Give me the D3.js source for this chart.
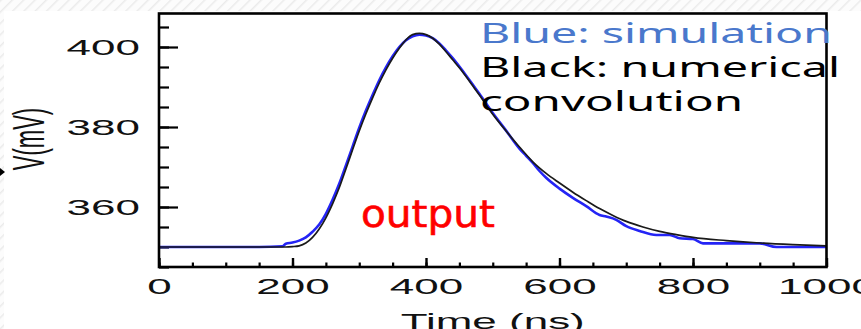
<!DOCTYPE html>
<html>
<head>
<meta charset="utf-8">
<script src="https://cdn.jsdelivr.net/npm/d3@7"></script>
<style>
  html, body { margin: 0; padding: 0; background: #fff; }
  svg { display: block; }
</style>
</head>
<body>
<svg id="chart" width="861" height="329"></svg>
<script>
// Numerical convolution result (black)
const convTime = [0, 150, 190, 200, 210, 220, 230, 240, 250, 260, 270, 280, 290, 300, 310, 320, 330, 340, 350, 360, 370, 380, 390, 400, 410, 420, 430, 440, 450, 460, 470, 480, 500, 520, 540, 560, 580, 600, 620, 640, 660, 680, 700, 725, 750, 775, 800, 850, 900, 950, 1000];
const convVolt = [350, 350, 350, 350.1, 350.3, 351.0, 352.4, 354.5, 357.3, 360.8, 364.8, 369.5, 374.3, 379.0, 383.3, 387.3, 391.0, 394.3, 397.2, 399.7, 401.8, 403.1, 403.4, 403.1, 402.2, 400.7, 398.8, 396.8, 394.8, 392.6, 390.3, 388.0, 383.2, 379.0, 375.0, 371.3, 368.4, 366.0, 363.7, 361.6, 359.6, 357.9, 356.4, 355.0, 353.9, 353.1, 352.4, 351.6, 351.0, 350.6, 350.3];

// Circuit simulation result (blue)
const simTime = [0, 150, 185, 190, 200, 210, 220, 230, 240, 250, 260, 270, 280, 290, 300, 310, 320, 330, 340, 350, 360, 370, 380, 390, 400, 410, 420, 430, 440, 450, 460, 470, 480, 500, 520, 540, 550, 560, 570, 580, 600, 620, 640, 660, 670, 685, 700, 720, 745, 765, 780, 800, 815, 850, 900, 925, 1000];
const simVolt = [350, 350, 350.2, 350.8, 351.1, 351.6, 352.4, 353.8, 355.6, 358.3, 361.8, 365.8, 370.4, 375.1, 379.8, 384.1, 388.0, 391.7, 394.9, 397.7, 400.0, 401.7, 402.7, 403.1, 402.9, 402.2, 400.9, 399.1, 397.2, 395.1, 392.9, 390.6, 388.3, 383.5, 379.1, 374.6, 372.8, 371.0, 369.0, 367.3, 364.6, 362.3, 360.2, 358.0, 357.6, 356.8, 355.2, 354.0, 353.0, 353.0, 352.2, 352.0, 350.9, 350.9, 350.9, 350.0, 350.0];

// Axis ticks
const timeTicks = [0, 200, 400, 600, 800, 1000];
const timeMinorTicks = d3.range(0, 1001, 50);
const voltTicks = [360, 380, 400];
const voltMinorTicks = d3.range(345, 406, 5);

const legendLines = ["Blue: simulation", "Black: numerical", "convolution"];
const noteText = "output";

const svg = d3.select("#chart");

// striped slide background along the top and left edges
const defs = svg.append("defs");
const pat = defs.append("pattern")
  .attr("id", "hatch").attr("width", 8).attr("height", 8)
  .attr("patternUnits", "userSpaceOnUse")
  .attr("patternTransform", "rotate(45)");
pat.append("rect").attr("width", 8).attr("height", 8).attr("fill", "#fcfcfc");
pat.append("line").attr("x1", 0).attr("y1", 0).attr("x2", 0).attr("y2", 8)
  .attr("stroke", "#ebebeb").attr("stroke-width", 3);
svg.append("rect").attr("x", 0).attr("y", 0).attr("width", 861).attr("height", 11).attr("fill", "url(#hatch)");
svg.append("rect").attr("x", 0).attr("y", 0).attr("width", 4).attr("height", 329).attr("fill", "url(#hatch)");

const x = d3.scaleLinear().domain([0, 1000]).range([159, 826.5]);
const y = d3.scaleLinear().domain([345, 408.375]).range([267, 13.5]);

const FONT = "'Liberation Sans', Arial, sans-serif";
const SX = 2.0; // wide-aspect text

// minor ticks
svg.append("g").attr("transform", `translate(${x(0)},0)`)
  .call(d3.axisLeft(y).tickValues(voltMinorTicks).tickSize(-10).tickFormat(""))
  .call(g => g.select(".domain").remove())
  .call(g => g.selectAll("line").attr("stroke", "#000").attr("stroke-width", 2.2));
svg.append("g").attr("transform", `translate(0,${y(345)})`)
  .call(d3.axisBottom(x).tickValues(timeMinorTicks).tickSize(-4.5).tickFormat(""))
  .call(g => g.select(".domain").remove())
  .call(g => g.selectAll("line").attr("stroke", "#000").attr("stroke-width", 2.2));

// major ticks + labels
const yAxis = svg.append("g").attr("transform", `translate(${x(0)},0)`)
  .call(d3.axisLeft(y).tickValues(voltTicks).tickSize(-19).tickPadding(0).tickFormat(d3.format("d")))
  .call(g => g.select(".domain").remove());
yAxis.selectAll("line").attr("stroke", "#000").attr("stroke-width", 2.2);
yAxis.selectAll("text")
  .attr("x", -19 / SX).attr("dy", "0.36em")
  .attr("transform", `scale(${SX},1)`)
  .attr("text-anchor", "end")
  .style("font-family", FONT).style("font-size", "22px").attr("fill", "#111");

const xAxis = svg.append("g").attr("transform", `translate(0,${y(345)})`)
  .call(d3.axisBottom(x).tickValues(timeTicks).tickSize(-9).tickPadding(0).tickFormat(d3.format("d")))
  .call(g => g.select(".domain").remove());
xAxis.selectAll("line").attr("stroke", "#000").attr("stroke-width", 2.4);
xAxis.selectAll("text")
  .attr("y", 27).attr("dy", 0)
  .attr("transform", `scale(${SX},1)`)
  .attr("text-anchor", "middle")
  .style("font-family", FONT).style("font-size", "22px").attr("fill", "#111");

// axis titles
svg.append("text")
  .attr("transform", `translate(${x(500)},329) scale(${SX},1)`)
  .attr("text-anchor", "middle")
  .style("font-family", FONT).style("font-size", "22px").attr("fill", "#111")
  .text("Time (ns)");
svg.append("text")
  .attr("transform", `translate(44,139) scale(${SX},1) rotate(-90)`)
  .attr("text-anchor", "middle")
  .style("font-family", FONT).style("font-size", "22px").attr("fill", "#111")
  .text("V(mV)");

// small pointer at the left edge
svg.append("path").attr("d", "M0,168 L5,172 L0,176 Z").attr("fill", "#000");

// curves
const line = d3.line().curve(d3.curveMonotoneX);
svg.append("path")
  .attr("d", line(simTime.map((t, i) => [x(t), y(simVolt[i])])))
  .attr("fill", "none").attr("stroke", "#2424f5").attr("stroke-width", 2.6)
  .attr("stroke-linejoin", "round");
svg.append("path")
  .attr("d", line(convTime.map((t, i) => [x(t), y(convVolt[i])])))
  .attr("fill", "none").attr("stroke", "#1a1a1a").attr("stroke-width", 1.7)
  .attr("stroke-linejoin", "round");

// frame
svg.append("rect")
  .attr("x", x(0)).attr("y", y(408.375))
  .attr("width", x(1000) - x(0)).attr("height", y(345) - y(408.375))
  .attr("fill", "none").attr("stroke", "#000").attr("stroke-width", 2.6);

// legend text
const legendColors = ["#4a78cc", "#000", "#000"];
const legendWidths = [352, 360, 263];
legendLines.forEach((s, i) => {
  svg.append("text")
    .attr("x", 480).attr("y", 43 + i * 34)
    .attr("textLength", legendWidths[i]).attr("lengthAdjust", "spacingAndGlyphs")
    .style("font-family", "'Noto Sans', 'Open Sans', sans-serif").style("font-size", "28px")
    .attr("fill", legendColors[i])
    .text(s);
});

// annotation
svg.append("text")
  .attr("x", 361).attr("y", 227)
  .attr("textLength", 134).attr("lengthAdjust", "spacingAndGlyphs")
  .style("font-family", "'DejaVu Sans', sans-serif").style("font-size", "38px")
  .attr("fill", "#ff0000").attr("stroke", "#ff0000").attr("stroke-width", 0.6)
  .text(noteText);
</script>
</body>
</html>
